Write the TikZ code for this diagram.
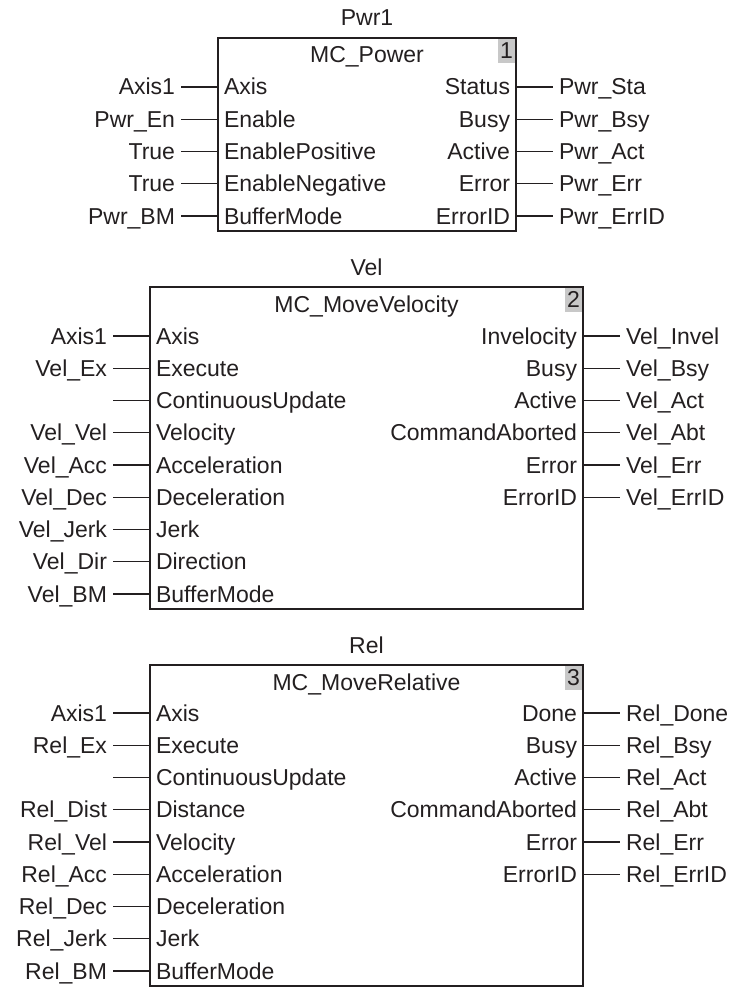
\documentclass[tikz,border=0pt]{standalone}
\usepackage{fontspec}
\setmainfont{Liberation Sans}
\usetikzlibrary{positioning}
\definecolor{ink}{HTML}{231F20}
\definecolor{numgray}{HTML}{C8C8C8}

\begin{document}
\begin{tikzpicture}[
        x=1pt, y=-1pt,
        font=\fontsize{23pt}{25pt}\selectfont,
        text=ink,
        fblock/.style={draw=ink, line width=1.5pt, rectangle, anchor=north west, inner sep=0pt, outer sep=0pt},
        lbl/.style={inner xsep=6pt, inner ysep=0pt, outer sep=0pt, text height=16pt, text depth=0pt},
        pinin/.style={lbl, anchor=west},
        pinout/.style={lbl, anchor=east},
        extin/.style={lbl, anchor=east},
        extout/.style={lbl, anchor=west},
        numbox/.style={anchor=north east, fill=numgray, minimum width=17pt, minimum height=24pt, inner sep=0pt, text height=16pt, text depth=0pt},
        wire/.style={draw=ink, line width=1.1pt}
    ]
        \useasboundingbox (0,0) rectangle (735,987);

        % Block 1: MC_Power
        \node (pwr) [fblock, minimum width=298pt, minimum height=193pt] at (218,38) {};
        \node (pwr_title) [lbl, above=12pt of pwr.north] {Pwr1};
        \node (pwr_name) [lbl, below=9pt of pwr.north] {MC\_Power};
        \node (pwr_num) [numbox] at ([xshift=-0.75pt, yshift=-0.75pt]pwr.north east) {1};

        % inputs
        \node (pwr_axis) [pinin, below right=49pt and 0pt of pwr.north west, anchor=west] {Axis};
        \node (pwr_en) [pinin, below=32.25pt of pwr_axis.west, anchor=west] {Enable};
        \node (pwr_pos) [pinin, below=32.25pt of pwr_en.west, anchor=west] {EnablePositive};
        \node (pwr_neg) [pinin, below=32.25pt of pwr_pos.west, anchor=west] {EnableNegative};
        \node (pwr_bm) [pinin, below=32.25pt of pwr_neg.west, anchor=west] {BufferMode};

        \node (pwr_axis_in) [extin, left=37pt of pwr_axis.west] {Axis1};
        \node (pwr_en_in) [extin, left=37pt of pwr_en.west] {Pwr\_En};
        \node (pwr_pos_in) [extin, left=37pt of pwr_pos.west] {True};
        \node (pwr_neg_in) [extin, left=37pt of pwr_neg.west] {True};
        \node (pwr_bm_in) [extin, left=37pt of pwr_bm.west] {Pwr\_BM};

        % outputs
        \node (pwr_sta) [pinout, below left=49pt and 0pt of pwr.north east, anchor=east] {Status};
        \node (pwr_bsy) [pinout, below=32.25pt of pwr_sta.east, anchor=east] {Busy};
        \node (pwr_act) [pinout, below=32.25pt of pwr_bsy.east, anchor=east] {Active};
        \node (pwr_err) [pinout, below=32.25pt of pwr_act.east, anchor=east] {Error};
        \node (pwr_eid) [pinout, below=32.25pt of pwr_err.east, anchor=east] {ErrorID};

        \node (pwr_sta_out) [extout, right=37pt of pwr_sta.east] {Pwr\_Sta};
        \node (pwr_bsy_out) [extout, right=37pt of pwr_bsy.east] {Pwr\_Bsy};
        \node (pwr_act_out) [extout, right=37pt of pwr_act.east] {Pwr\_Act};
        \node (pwr_err_out) [extout, right=37pt of pwr_err.east] {Pwr\_Err};
        \node (pwr_eid_out) [extout, right=37pt of pwr_eid.east] {Pwr\_ErrID};

        \draw[wire] (pwr_axis_in.east) -- (pwr_axis.west);
        \draw[wire] (pwr_en_in.east) -- (pwr_en.west);
        \draw[wire] (pwr_pos_in.east) -- (pwr_pos.west);
        \draw[wire] (pwr_neg_in.east) -- (pwr_neg.west);
        \draw[wire] (pwr_bm_in.east) -- (pwr_bm.west);
        \draw[wire] (pwr_sta.east) -- (pwr_sta_out.west);
        \draw[wire] (pwr_bsy.east) -- (pwr_bsy_out.west);
        \draw[wire] (pwr_act.east) -- (pwr_act_out.west);
        \draw[wire] (pwr_err.east) -- (pwr_err_out.west);
        \draw[wire] (pwr_eid.east) -- (pwr_eid_out.west);

        % Block 2: MC_MoveVelocity
        \node (vel) [fblock, minimum width=433pt, minimum height=322pt] at (150,287) {};
        \node (vel_title) [lbl, above=12pt of vel.north] {Vel};
        \node (vel_name) [lbl, below=9pt of vel.north] {MC\_MoveVelocity};
        \node (vel_num) [numbox] at ([xshift=-0.75pt, yshift=-0.75pt]vel.north east) {2};

        % inputs
        \node (vel_axis) [pinin, below right=49pt and 0pt of vel.north west, anchor=west] {Axis};
        \node (vel_ex) [pinin, below=32.25pt of vel_axis.west, anchor=west] {Execute};
        \node (vel_cu) [pinin, below=32.25pt of vel_ex.west, anchor=west] {ContinuousUpdate};
        \node (vel_vel) [pinin, below=32.25pt of vel_cu.west, anchor=west] {Velocity};
        \node (vel_acc) [pinin, below=32.25pt of vel_vel.west, anchor=west] {Acceleration};
        \node (vel_dec) [pinin, below=32.25pt of vel_acc.west, anchor=west] {Deceleration};
        \node (vel_jerk) [pinin, below=32.25pt of vel_dec.west, anchor=west] {Jerk};
        \node (vel_dir) [pinin, below=32.25pt of vel_jerk.west, anchor=west] {Direction};
        \node (vel_bm) [pinin, below=32.25pt of vel_dir.west, anchor=west] {BufferMode};

        \node (vel_axis_in) [extin, left=37pt of vel_axis.west] {Axis1};
        \node (vel_ex_in) [extin, left=37pt of vel_ex.west] {Vel\_Ex};
        \coordinate[left=37pt of vel_cu.west] (vel_cu_in);
        \node (vel_vel_in) [extin, left=37pt of vel_vel.west] {Vel\_Vel};
        \node (vel_acc_in) [extin, left=37pt of vel_acc.west] {Vel\_Acc};
        \node (vel_dec_in) [extin, left=37pt of vel_dec.west] {Vel\_Dec};
        \node (vel_jerk_in) [extin, left=37pt of vel_jerk.west] {Vel\_Jerk};
        \node (vel_dir_in) [extin, left=37pt of vel_dir.west] {Vel\_Dir};
        \node (vel_bm_in) [extin, left=37pt of vel_bm.west] {Vel\_BM};

        % outputs
        \node (vel_inv) [pinout, below left=49pt and 0pt of vel.north east, anchor=east] {Invelocity};
        \node (vel_bsy) [pinout, below=32.25pt of vel_inv.east, anchor=east] {Busy};
        \node (vel_act) [pinout, below=32.25pt of vel_bsy.east, anchor=east] {Active};
        \node (vel_abt) [pinout, below=32.25pt of vel_act.east, anchor=east] {CommandAborted};
        \node (vel_err) [pinout, below=32.25pt of vel_abt.east, anchor=east] {Error};
        \node (vel_eid) [pinout, below=32.25pt of vel_err.east, anchor=east] {ErrorID};

        \node (vel_inv_out) [extout, right=37pt of vel_inv.east] {Vel\_Invel};
        \node (vel_bsy_out) [extout, right=37pt of vel_bsy.east] {Vel\_Bsy};
        \node (vel_act_out) [extout, right=37pt of vel_act.east] {Vel\_Act};
        \node (vel_abt_out) [extout, right=37pt of vel_abt.east] {Vel\_Abt};
        \node (vel_err_out) [extout, right=37pt of vel_err.east] {Vel\_Err};
        \node (vel_eid_out) [extout, right=37pt of vel_eid.east] {Vel\_ErrID};

        \draw[wire] (vel_axis_in.east) -- (vel_axis.west);
        \draw[wire] (vel_ex_in.east) -- (vel_ex.west);
        \draw[wire] (vel_cu_in) -- (vel_cu.west);
        \draw[wire] (vel_vel_in.east) -- (vel_vel.west);
        \draw[wire] (vel_acc_in.east) -- (vel_acc.west);
        \draw[wire] (vel_dec_in.east) -- (vel_dec.west);
        \draw[wire] (vel_jerk_in.east) -- (vel_jerk.west);
        \draw[wire] (vel_dir_in.east) -- (vel_dir.west);
        \draw[wire] (vel_bm_in.east) -- (vel_bm.west);
        \draw[wire] (vel_inv.east) -- (vel_inv_out.west);
        \draw[wire] (vel_bsy.east) -- (vel_bsy_out.west);
        \draw[wire] (vel_act.east) -- (vel_act_out.west);
        \draw[wire] (vel_abt.east) -- (vel_abt_out.west);
        \draw[wire] (vel_err.east) -- (vel_err_out.west);
        \draw[wire] (vel_eid.east) -- (vel_eid_out.west);

        % Block 3: MC_MoveRelative
        \node (rel) [fblock, minimum width=433pt, minimum height=321pt] at (150,665) {};
        \node (rel_title) [lbl, above=12pt of rel.north] {Rel};
        \node (rel_name) [lbl, below=9pt of rel.north] {MC\_MoveRelative};
        \node (rel_num) [numbox] at ([xshift=-0.75pt, yshift=-0.75pt]rel.north east) {3};

        % inputs
        \node (rel_axis) [pinin, below right=48pt and 0pt of rel.north west, anchor=west] {Axis};
        \node (rel_ex) [pinin, below=32.25pt of rel_axis.west, anchor=west] {Execute};
        \node (rel_cu) [pinin, below=32.25pt of rel_ex.west, anchor=west] {ContinuousUpdate};
        \node (rel_dist) [pinin, below=32.25pt of rel_cu.west, anchor=west] {Distance};
        \node (rel_vel) [pinin, below=32.25pt of rel_dist.west, anchor=west] {Velocity};
        \node (rel_acc) [pinin, below=32.25pt of rel_vel.west, anchor=west] {Acceleration};
        \node (rel_dec) [pinin, below=32.25pt of rel_acc.west, anchor=west] {Deceleration};
        \node (rel_jerk) [pinin, below=32.25pt of rel_dec.west, anchor=west] {Jerk};
        \node (rel_bm) [pinin, below=32.25pt of rel_jerk.west, anchor=west] {BufferMode};

        \node (rel_axis_in) [extin, left=37pt of rel_axis.west] {Axis1};
        \node (rel_ex_in) [extin, left=37pt of rel_ex.west] {Rel\_Ex};
        \coordinate[left=37pt of rel_cu.west] (rel_cu_in);
        \node (rel_dist_in) [extin, left=37pt of rel_dist.west] {Rel\_Dist};
        \node (rel_vel_in) [extin, left=37pt of rel_vel.west] {Rel\_Vel};
        \node (rel_acc_in) [extin, left=37pt of rel_acc.west] {Rel\_Acc};
        \node (rel_dec_in) [extin, left=37pt of rel_dec.west] {Rel\_Dec};
        \node (rel_jerk_in) [extin, left=37pt of rel_jerk.west] {Rel\_Jerk};
        \node (rel_bm_in) [extin, left=37pt of rel_bm.west] {Rel\_BM};

        % outputs
        \node (rel_done) [pinout, below left=48pt and 0pt of rel.north east, anchor=east] {Done};
        \node (rel_bsy) [pinout, below=32.25pt of rel_done.east, anchor=east] {Busy};
        \node (rel_act) [pinout, below=32.25pt of rel_bsy.east, anchor=east] {Active};
        \node (rel_abt) [pinout, below=32.25pt of rel_act.east, anchor=east] {CommandAborted};
        \node (rel_err) [pinout, below=32.25pt of rel_abt.east, anchor=east] {Error};
        \node (rel_eid) [pinout, below=32.25pt of rel_err.east, anchor=east] {ErrorID};

        \node (rel_done_out) [extout, right=37pt of rel_done.east] {Rel\_Done};
        \node (rel_bsy_out) [extout, right=37pt of rel_bsy.east] {Rel\_Bsy};
        \node (rel_act_out) [extout, right=37pt of rel_act.east] {Rel\_Act};
        \node (rel_abt_out) [extout, right=37pt of rel_abt.east] {Rel\_Abt};
        \node (rel_err_out) [extout, right=37pt of rel_err.east] {Rel\_Err};
        \node (rel_eid_out) [extout, right=37pt of rel_eid.east] {Rel\_ErrID};

        \draw[wire] (rel_axis_in.east) -- (rel_axis.west);
        \draw[wire] (rel_ex_in.east) -- (rel_ex.west);
        \draw[wire] (rel_cu_in) -- (rel_cu.west);
        \draw[wire] (rel_dist_in.east) -- (rel_dist.west);
        \draw[wire] (rel_vel_in.east) -- (rel_vel.west);
        \draw[wire] (rel_acc_in.east) -- (rel_acc.west);
        \draw[wire] (rel_dec_in.east) -- (rel_dec.west);
        \draw[wire] (rel_jerk_in.east) -- (rel_jerk.west);
        \draw[wire] (rel_bm_in.east) -- (rel_bm.west);
        \draw[wire] (rel_done.east) -- (rel_done_out.west);
        \draw[wire] (rel_bsy.east) -- (rel_bsy_out.west);
        \draw[wire] (rel_act.east) -- (rel_act_out.west);
        \draw[wire] (rel_abt.east) -- (rel_abt_out.west);
        \draw[wire] (rel_err.east) -- (rel_err_out.west);
        \draw[wire] (rel_eid.east) -- (rel_eid_out.west);
    \end{tikzpicture}
\end{document}
